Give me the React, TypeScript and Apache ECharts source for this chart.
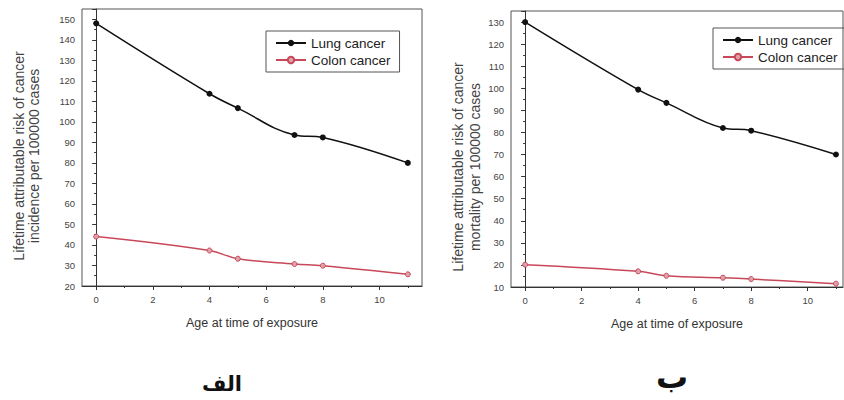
import React, { useEffect, useRef } from "react";
import * as echarts from "echarts";

const ages = [0, 4, 5, 7, 8, 11];
const incidenceLung = [148, 113.7, 106.7, 93.6, 92.4, 80];
const incidenceColon = [44.1, 37.3, 33.3, 30.7, 29.9, 25.7];
const mortalityLung = [130, 99.4, 93.4, 82, 80.8, 70];
const mortalityColon = [20.1, 17.1, 15.1, 14.2, 13.6, 11.5];
const xMajor = [0, 2, 4, 6, 8, 10];
const xMinor = [0, 1, 2, 3, 4, 5, 6, 7, 8, 9, 10, 11];
const seriesNames = ["Lung cancer", "Colon cancer"];
const yTitleA = ["Lifetime attributable risk of cancer", "incidence per 100000 cases"];
const yTitleB = ["Lifetime attributable risk of cancer", "mortality per 100000 cases"];
const xTitle = "Age at time of exposure";
const panelLabels = ["الف", "ب"];

const FONT = "Liberation Sans, Arial, sans-serif";
const AXIS = "#333";
const LUNG = "#111111";
const COLON = "#c8485a";

function pairs(xs: number[], ys: number[]) {
  return xs.map((x, i) => [x, ys[i]]);
}

export default function App() {
  const ref = useRef<HTMLDivElement>(null);
  useEffect(() => {
    if (!ref.current) return;
    const chart = echarts.init(ref.current, undefined, { renderer: "svg" });

    const mainX = (gridIndex: number, max: number) => ({
      type: "value",
      gridIndex,
      min: -0.5,
      max,
      name: xTitle,
      nameLocation: "middle",
      nameGap: 30,
      nameTextStyle: { fontFamily: FONT, fontSize: 12.5, color: "#333" },
      axisLine: { show: true, lineStyle: { color: AXIS, width: 1 } },
      axisTick: { show: true, customValues: xMajor, length: 4, lineStyle: { color: AXIS } },
      axisLabel: { customValues: xMajor, fontFamily: FONT, fontSize: 9.5, color: "#444", margin: 8 },
      splitLine: { show: false },
    });
    const minorX = (gridIndex: number, max: number) => ({
      type: "value",
      gridIndex,
      min: -0.5,
      max,
      position: "bottom",
      axisLine: { show: false },
      axisTick: { show: true, customValues: xMinor, length: 2, lineStyle: { color: AXIS } },
      axisLabel: { show: false },
      splitLine: { show: false },
    });
    const mainY = (gridIndex: number, min: number, max: number) => ({
      type: "value",
      gridIndex,
      min,
      max,
      interval: 10,
      axisLine: { show: true, lineStyle: { color: AXIS, width: 1 } },
      axisTick: { show: true, length: 4, lineStyle: { color: AXIS } },
      minorTick: { show: true, splitNumber: 2, length: 2, lineStyle: { color: AXIS } },
      axisLabel: {
        fontFamily: FONT,
        fontSize: 9.5,
        color: "#444",
        margin: 7,
        formatter: (v: number) => (v % 10 === 0 ? String(v) : ""),
      },
      splitLine: { show: false },
      minorSplitLine: { show: false },
    });

    const lungSeries = (xi: number, yi: number, data: number[]) => ({
      name: seriesNames[0],
      type: "line",
      xAxisIndex: xi,
      yAxisIndex: yi,
      data: pairs(ages, data),
      smooth: 0.4,
      symbol: "circle",
      symbolSize: 6,
      lineStyle: { color: LUNG, width: 1.5 },
      itemStyle: { color: LUNG },
    });
    const colonSeries = (xi: number, yi: number, data: number[]) => ({
      name: seriesNames[1],
      type: "line",
      xAxisIndex: xi,
      yAxisIndex: yi,
      data: pairs(ages, data),
      smooth: 0.4,
      symbol: "circle",
      symbolSize: 5,
      lineStyle: { color: COLON, width: 1.5 },
      itemStyle: { color: "#e0a0a8", borderColor: COLON, borderWidth: 1 },
    });

    const legend = (left: number, top: number) => ({
      left,
      top,
      orient: "vertical",
      data: seriesNames,
      borderColor: "#555",
      borderWidth: 1,
      padding: [5, 9, 5, 9],
      itemGap: 3,
      itemWidth: 30,
      itemHeight: 8,
      textStyle: { fontFamily: FONT, fontSize: 13.5, color: "#222" },
      selectedMode: false,
    });

    const yTitle = (cx: number, cy: number, lines: string[], lh: number) => ({
      type: "text",
      x: cx,
      y: cy,
      rotation: Math.PI / 2,
      style: {
        text: lines.join("\n"),
        fontFamily: FONT,
        fontSize: 14,
        lineHeight: lh,
        fill: "#444",
        align: "center",
        verticalAlign: "middle",
      },
    });

    chart.setOption({
      animation: false,
      backgroundColor: "#ffffff",
      grid: [
        { left: 82, top: 9, width: 340, height: 277, show: true, borderColor: "#555", borderWidth: 1, backgroundColor: "transparent" },
        { left: 511, top: 11, width: 332, height: 276, show: true, borderColor: "#555", borderWidth: 1, backgroundColor: "transparent" },
      ],
      xAxis: [mainX(0, 11.5), minorX(0, 11.5), mainX(1, 11.25), minorX(1, 11.25)],
      yAxis: [mainY(0, 20, 155), mainY(1, 10, 135)],
      legend: [legend(266, 31), legend(713, 28)],
      series: [
        lungSeries(0, 0, incidenceLung),
        colonSeries(0, 0, incidenceColon),
        lungSeries(2, 1, mortalityLung),
        colonSeries(2, 1, mortalityColon),
      ],
      graphic: [
        yTitle(26, 156, yTitleA, 15),
        yTitle(466, 167, yTitleB, 17),
        {
          type: "text",
          x: 222,
          y: 384,
          style: {
            text: panelLabels[0],
            fontFamily: "DejaVu Sans, Noto Sans, sans-serif",
            fontSize: 21,
            fontWeight: "bold",
            fill: "#111",
            align: "center",
            verticalAlign: "middle",
          },
        },
        {
          type: "text",
          x: 672,
          y: 377,
          style: {
            text: panelLabels[1],
            fontFamily: "DejaVu Sans, Noto Sans, sans-serif",
            fontSize: 32,
            fontWeight: "bold",
            fill: "#111",
            align: "center",
            verticalAlign: "middle",
          },
        },
      ],
    });
    return () => chart.dispose();
  }, []);
  return (
    <div
      ref={ref}
      style={{ position: "fixed", left: 0, top: 0, width: 844, height: 400 }}
    />
  );
}
